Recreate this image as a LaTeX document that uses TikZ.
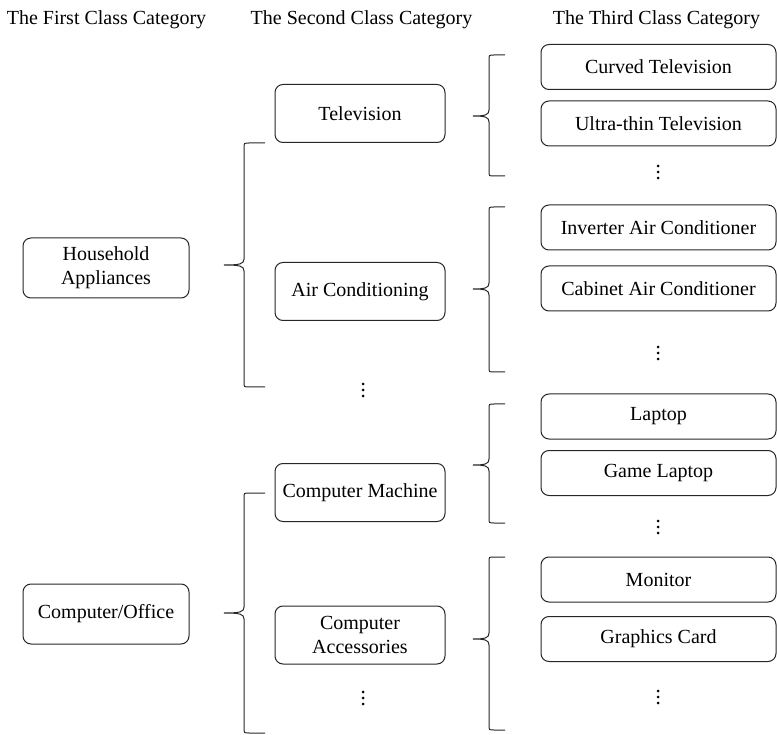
\documentclass[tikz,border=0pt]{standalone}
\usepackage{fontspec}
\setmainfont{Liberation Serif}
\newcommand\dotcolumn[2]{%
  \fill[dotstyle] (#1,#2-6) circle (1.5) (#1,#2) circle (1.5) (#1,#2+6) circle (1.5);}
\newcommand\bracketpath[6]{%
  \draw[bracestyle] (#1,#4) -- (#2+5,#4) .. controls (#2,#4) .. (#2,#4+5)
    -- (#2,#5-6) .. controls (#2,#5-1) and (#2-4,#5) .. (#3,#5)
    .. controls (#2-4,#5) and (#2,#5+1) .. (#2,#5+6)
    -- (#2,#6-5) .. controls (#2,#6) .. (#2+5,#6) -- (#1,#6);}
\tikzset{
  box/.style={draw=black!85, line width=1pt, rounded corners=8pt, inner sep=0pt,
    align=center, font=\fontsize{20}{24}\selectfont},
  firstbox/.style={box, minimum width=166pt, minimum height=60pt},
  secondbox/.style={box, minimum width=170pt, minimum height=58pt},
  thirdbox/.style={box, minimum width=235pt, minimum height=45pt},
  header/.style={anchor=base, inner sep=0pt, font=\fontsize{20}{24}\selectfont},
  dotstyle/.style={black},
  bracestyle/.style={draw=black!85, line width=1pt}
}
\begin{document}
\begin{tikzpicture}[x=1pt,y=-1pt]
\useasboundingbox (0,0) rectangle (777,735);
% headers
\node[header] (h1) at (106.5,25) {The First Class Category};
\node[header] (h2) at (361.5,25) {The Second Class Category};
\node[header] (h3) at (656.5,25) {The Third Class Category};
% first level
\node[firstbox] (ha) at (106,268) {Household\\Appliances};
\node[firstbox] (co) at (106,614) {Computer/Office};
% second level
\node[secondbox] (tv) at (360,113.5) {Television};
\node[secondbox] (ac) at (360,291.5) {Air Conditioning};
\node[secondbox] (cm) at (360,492.5) {Computer Machine};
\node[secondbox] (ca) at (360,635) {Computer\\Accessories};
\dotcolumn{363}{390}
\dotcolumn{363}{698}
% third level
\node[thirdbox] (t1) at (658.5,67) {Curved Television};
\node[thirdbox] (t2) at (658.5,123.5) {Ultra-thin Television};
\node[thirdbox] (t3) at (658.5,227.5) {Inverter Air Conditioner};
\node[thirdbox] (t4) at (658.5,288.5) {Cabinet Air Conditioner};
\node[thirdbox] (t5) at (658.5,416.5) {Laptop};
\node[thirdbox] (t6) at (658.5,473) {Game Laptop};
\node[thirdbox] (t7) at (658.5,579.5) {Monitor};
\node[thirdbox] (t8) at (658.5,639) {Graphics Card};
\dotcolumn{658}{172}
\dotcolumn{658}{353}
\dotcolumn{658}{527}
\dotcolumn{658}{697}
% braces
\bracketpath{265}{244}{224}{143}{265}{387}
\bracketpath{265}{244}{224}{493}{613}{733}
\bracketpath{505}{489}{473}{55}{116}{176}
\bracketpath{505}{489}{473}{207}{289}{372}
\bracketpath{505}{489}{473}{404}{465}{523}
\bracketpath{505}{489}{473}{557}{639}{730}
\end{tikzpicture}
\end{document}
